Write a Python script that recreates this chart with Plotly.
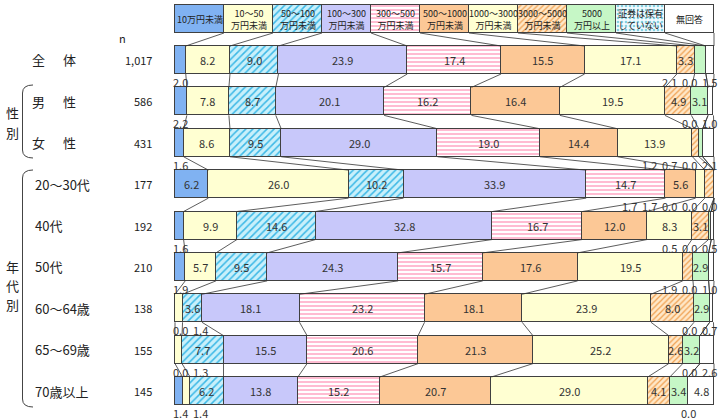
import plotly.graph_objects as go
import numpy as np

# ---------------- data ----------------
categories = ["10万円未満", "10〜50<br>万円未満", "50〜100<br>万円未満", "100〜300<br>万円未満",
              "300〜500<br>万円未満", "500〜1000<br>万円未満", "1000〜3000<br>万円未満",
              "3000〜5000<br>万円未満", "5000<br>万円以上", "証券は保有<br>していない", "無回答"]
groups = ["全体", "男性", "女性", "20〜30代", "40代", "50代", "60〜64歳", "65〜69歳", "70歳以上"]
n_values = ["1,017", "586", "431", "177", "192", "210", "138", "155", "145"]

v_under10 = [2.0, 2.2, 1.6, 6.2, 1.6, 1.9, 0.0, 0.0, 1.4]
v_10_50 = [8.2, 7.8, 8.6, 26.0, 9.9, 5.7, 1.4, 1.3, 1.4]
v_50_100 = [9.0, 8.7, 9.5, 10.2, 14.6, 9.5, 3.6, 7.7, 6.2]
v_100_300 = [23.9, 20.1, 29.0, 33.9, 32.8, 24.3, 18.1, 15.5, 13.8]
v_300_500 = [17.4, 16.2, 19.0, 14.7, 16.7, 15.7, 23.2, 20.6, 15.2]
v_500_1000 = [15.5, 16.4, 14.4, 5.6, 12.0, 17.6, 18.1, 21.3, 20.7]
v_1000_3000 = [17.1, 19.5, 13.9, 1.7, 8.3, 19.5, 23.9, 25.2, 29.0]
v_3000_5000 = [3.3, 4.9, 1.2, 1.7, 3.1, 1.9, 8.0, 2.6, 4.1]
v_over5000 = [2.1, 3.1, 0.7, 0.0, 0.5, 2.9, 2.9, 3.2, 3.4]
v_none = [0.0, 0.0, 0.0, 0.0, 0.0, 0.0, 0.0, 0.0, 0.0]
v_na = [1.5, 1.0, 2.1, 0.0, 0.5, 1.0, 0.7, 2.6, 4.8]

series = [v_under10, v_10_50, v_50_100, v_100_300, v_300_500, v_500_1000,
          v_1000_3000, v_3000_5000, v_over5000, v_none, v_na]

# ---------------- styles ----------------
styles = [
    dict(color="#80b2f2"),
    dict(color="#ffffd2"),
    dict(color="#c8f0fb", pattern=dict(shape="/", bgcolor="#c8f0fb", fgcolor="#3cb8e6", size=5, solidity=0.3)),
    dict(color="#c8c8fa"),
    dict(color="#ffffff", pattern=dict(shape="-", bgcolor="#ffffff", fgcolor="#ff8fb4", size=4, solidity=0.3)),
    dict(color="#fcc896"),
    dict(color="#ffffd2"),
    dict(color="#ffe4c0", pattern=dict(shape="/", bgcolor="#ffe8c8", fgcolor="#f0a050", size=4, solidity=0.3)),
    dict(color="#c6f7c6"),
    dict(color="#f2fbff", pattern=dict(shape=".", bgcolor="#f2fbff", fgcolor="#86d2e2", size=4, solidity=0.35)),
    dict(color="#ffffff"),
]

FONT = "Noto Sans CJK JP, Noto Sans, sans-serif"
W, H = 721, 420
X0PX, XSCALE = 175.0, 5.39      # px of 0%, px per 1%
Y0PX, YSCALE = 60.0, 41.375     # px of first row centre, px per row
BAR_W = 28 / YSCALE


def dx(px):
    return (px - X0PX) / XSCALE


def dy(py):
    return (py - Y0PX) / YSCALE


def px_of(x):
    return X0PX + x * XSCALE


nrows = len(groups)
ncat = len(categories)
rows_y = list(range(nrows))
header_y = dy(19)

fig = go.Figure()
for k in range(ncat):
    marker = dict(color=styles[k]["color"], line=dict(color="#404040", width=1))
    if "pattern" in styles[k]:
        marker["pattern"] = dict(fillmode="replace", **styles[k]["pattern"])
    fig.add_trace(go.Bar(
        y=[header_y] + rows_y,
        x=[100.0 / ncat] + list(series[k]),
        orientation="h", width=BAR_W, marker=marker,
        hoverinfo="skip", showlegend=False,
    ))

annotations = []
shapes = []

# header texts
for k, c in enumerate(categories):
    annotations.append(dict(x=(k + 0.5) * 100.0 / ncat, y=header_y, xref="x", yref="y",
                            text=c, showarrow=False, font=dict(size=9, color="#222", family=FONT),
                            align="center"))

# cumulative positions
vals = np.array(series).T  # rows x cats
cums = np.hstack([np.zeros((nrows, 1)), np.cumsum(vals, axis=1)])
head_cum = np.arange(ncat + 1) * 100.0 / ncat

all_cums = [head_cum] + [cums[r] for r in range(nrows)]
all_y = [header_y] + rows_y
for r in range(len(all_y) - 1):
    for k in range(1, ncat + 1):
        shapes.append(dict(type="line", xref="x", yref="y",
                           x0=all_cums[r][k], y0=all_y[r] + BAR_W / 2,
                           x1=all_cums[r + 1][k], y1=all_y[r + 1] - BAR_W / 2,
                           line=dict(color="#333333", width=0.8), layer="above"))

# value labels
GAP, LMIN, RMAX = 20.0, 180.0, 709.0
for r in range(nrows):
    small = []
    for k in range(ncat):
        v = vals[r, k]
        mid = (cums[r, k] + cums[r, k + 1]) / 2
        below = v < 2.5 or (k == ncat - 1 and v < 3.0)
        if not below:
            annotations.append(dict(x=mid, y=r, xref="x", yref="y", text=f"{v:.1f}",
                                    showarrow=False, font=dict(size=11, color="#333", family=FONT)))
        else:
            small.append([px_of(mid), v])
    if small:
        pos = [s[0] for s in small]
        pos[0] = max(pos[0], LMIN)
        for i in range(1, len(pos)):
            pos[i] = max(pos[i], pos[i - 1] + GAP)
        pos[-1] = min(pos[-1], RMAX)
        for i in range(len(pos) - 2, -1, -1):
            pos[i] = min(pos[i], pos[i + 1] - GAP)
        for p, s in zip(pos, small):
            annotations.append(dict(x=dx(p), y=r + (14 + 8) / YSCALE, xref="x", yref="y",
                                    text=f"{s[1]:.1f}", showarrow=False,
                                    font=dict(size=11, color="#333", family=FONT)))


# left-side labels
def pa(px, py, text, size=13, xanchor="center"):
    annotations.append(dict(x=px / W, y=1 - py / H, xref="paper", yref="paper", text=text,
                            showarrow=False, xanchor=xanchor, yanchor="middle",
                            font=dict(size=size, color="#222", family=FONT)))


pa(122, 38, "n", size=11)
for r, g in enumerate(groups):
    ypx = Y0PX + r * YSCALE
    if r < 3:
        pa(38, ypx, g[0])
        pa(69, ypx, g[1])
    else:
        pa(33, ypx, g, xanchor="left")
    pa(154, ypx, n_values[r], size=11, xanchor="right")

for i, ch in enumerate("性別"):
    pa(12, 113 + i * 19, ch)
for i, ch in enumerate("年代別"):
    pa(12, 266 + i * 19, ch)


def bracket(ytop, ybot, xl=22.5, xr=33.0):
    def P(px, py):
        return f"{px / W:.5f},{1 - py / H:.5f}"
    path = (f"M {P(xr, ytop)} Q {P(xl, ytop)} {P(xl, ytop + 8)} "
            f"L {P(xl, ybot - 8)} Q {P(xl, ybot)} {P(xr, ybot)}")
    shapes.append(dict(type="path", xref="paper", yref="paper", path=path,
                       line=dict(color="#444", width=1)))


bracket(85, 158)
bracket(170, 407)

fig.update_layout(
    width=W, height=H, barmode="stack",
    margin=dict(l=0, r=0, t=0, b=0),
    paper_bgcolor="white", plot_bgcolor="white",
    xaxis=dict(range=[dx(0), dx(W)], visible=False, fixedrange=True),
    yaxis=dict(range=[dy(H), dy(0)], visible=False, fixedrange=True),
    annotations=annotations, shapes=shapes, bargap=0,
    font=dict(family=FONT),
)

fig.write_html("out.html")
